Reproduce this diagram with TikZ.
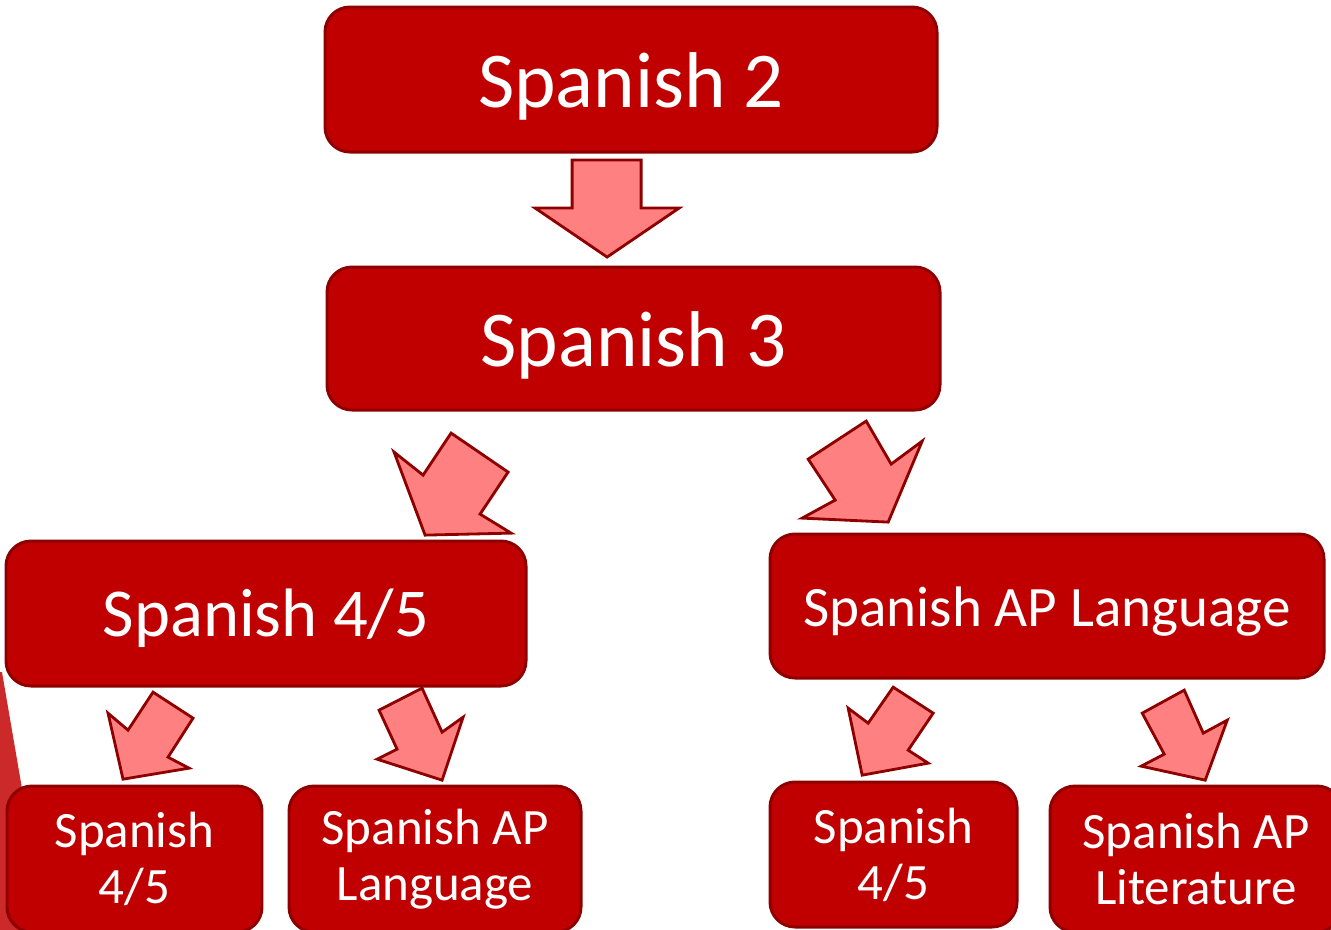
\documentclass[tikz,border=0pt]{standalone}
\usepackage{fontspec}
\setmainfont{Carlito}
\definecolor{boxred}{HTML}{C00000}
\definecolor{edgered}{HTML}{8E0000}
\definecolor{arrowpink}{HTML}{FF8080}
\definecolor{sliverred}{HTML}{CC2A2A}
\tikzset{
  course/.style={draw=edgered, fill=boxred, line width=1.7pt, rounded corners=0.5cm,
    text=white, align=center, inner sep=0pt},
  bigtext/.style={font=\fontsize{45}{50}\selectfont, text height=31.8pt, text depth=0pt},
  midtext/.style={font=\fontsize{39}{44}\selectfont, text height=26.6pt, text depth=0pt},
  langtext/.style={font=\fontsize{32.5}{36}\selectfont, text height=23.8pt, text depth=0pt},
  smalltext/.style={font=\fontsize{29}{32}\selectfont},
  blockarrow/.style={draw=edgered, fill=arrowpink, line width=1.6pt, line join=miter}
}
\begin{document}
\begin{tikzpicture}
\useasboundingbox (0,0) rectangle (26.62,-18.58);
% sliver at the left edge
\begin{scope}[x=0.02cm,y=-0.02cm]
\fill[sliverred] (0,672) -- (2,672) -- (24,800) -- (30,935) -- (0,935) -- cycle;
\end{scope}
% course boxes
\node[course, bigtext, minimum width=12.24cm, minimum height=2.90cm] (s2) at (12.62,-1.59) {Spanish 2};
\node[course, bigtext, minimum width=12.26cm, minimum height=2.86cm] (s3) at (12.67,-6.77) {Spanish 3};
\node[course, midtext, minimum width=10.40cm, minimum height=2.90cm] (s45) at (5.32,-12.27) {Spanish 4/5};
\node[course, langtext, minimum width=11.08cm, minimum height=2.88cm] (apl) at (20.94,-12.12) {Spanish AP Language};
\node[course, smalltext, minimum width=5.10cm, minimum height=2.92cm] (s45a) at (2.69,-17.18) {Spanish\\4/5};
\node[course, smalltext, minimum width=5.84cm, minimum height=2.92cm] (apla) at (8.70,-17.18) {Spanish AP\\Language};
\node[course, smalltext, minimum width=4.94cm, minimum height=2.90cm] (s45b) at (17.87,-17.09) {Spanish\\4/5};
\node[course, smalltext, minimum width=5.84cm, minimum height=2.92cm] (aplit) at (23.92,-17.18) {Spanish AP\\Literature};
% block arrows
\begin{scope}[x=0.02cm,y=-0.02cm]
\draw[blockarrow] (572,160) -- (641,160) -- (641,208) -- (679,208) -- (607,257) -- (535,208) -- (572,208) -- cycle;
\draw[blockarrow] (451,433) -- (508,472) -- (480,514) -- (511,533) -- (425,535) -- (394,452) -- (423,475) -- cycle;
\draw[blockarrow] (866,421) -- (891,464) -- (922,441) -- (888,522) -- (802,518) -- (835,500) -- (808,459) -- cycle;
\draw[blockarrow] (153,692) -- (193,718) -- (168,757) -- (189,768) -- (123,779) -- (108,713) -- (128,730) -- cycle;
\draw[blockarrow] (379,710) -- (422,688) -- (442,732) -- (463,717) -- (442,780) -- (377,759) -- (397,749) -- cycle;
\draw[blockarrow] (893,687) -- (933,713) -- (908,750) -- (928,763) -- (862,775) -- (848,708) -- (868,723) -- cycle;
\draw[blockarrow] (1142,713) -- (1184,690) -- (1203,733) -- (1227,720) -- (1205,780) -- (1141,766) -- (1164,754) -- cycle;
\end{scope}
\end{tikzpicture}
\end{document}
